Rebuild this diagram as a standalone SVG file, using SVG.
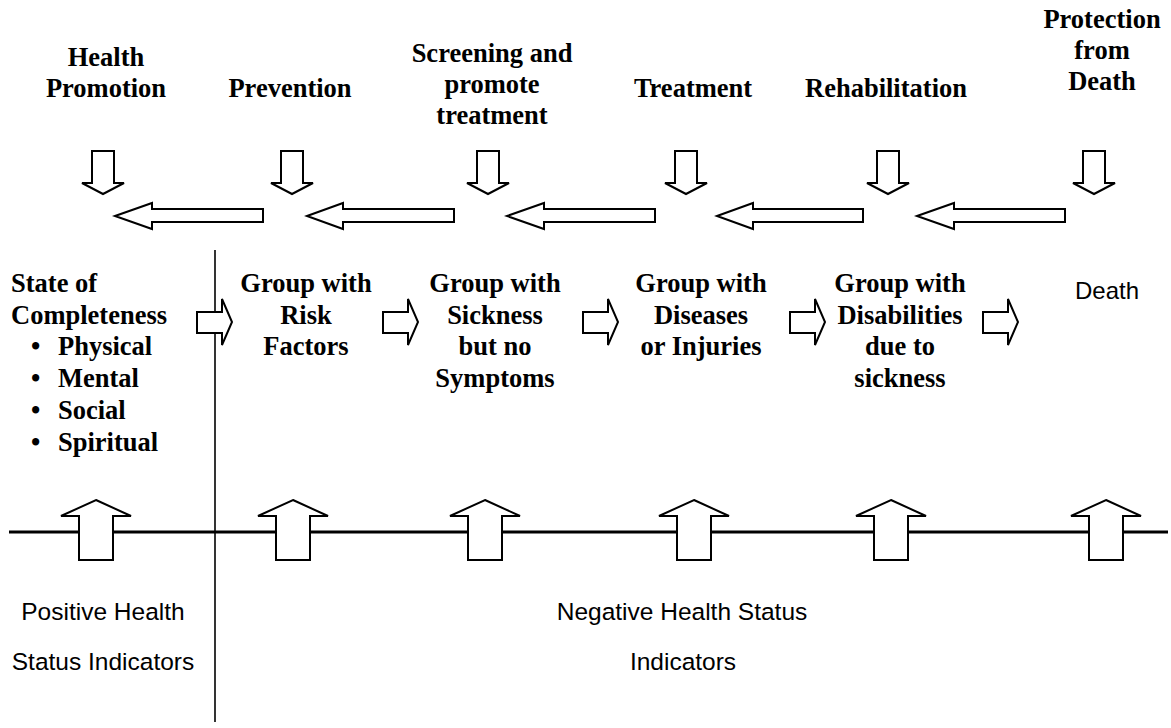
<svg xmlns="http://www.w3.org/2000/svg" width="1171" height="728" viewBox="0 0 1171 728">
  <style>
    .lbl { font-family: "Liberation Serif", "Times New Roman", serif; font-weight: bold; font-size: 26.5px; fill: #000; text-anchor: middle; }
    .lft { text-anchor: start; }
    .plain { font-family: "Liberation Sans", Arial, sans-serif; font-size: 24.5px; fill: #000; text-anchor: middle; }
    .blk { fill: #fff; stroke: #000; stroke-width: 2; stroke-linejoin: miter; }
    .axis { stroke: #000; fill: none; }
  </style>
  <rect width="1171" height="728" fill="#fff"/>

  <!-- axes -->
  <g id="axes">
    <line class="axis" x1="215" y1="250" x2="215" y2="722" stroke-width="1.6"/>
    <line class="axis" x1="9" y1="532" x2="1168" y2="532" stroke-width="3"/>
  </g>

  <!-- intervention labels -->
  <g id="health-promotion">
    <text class="lbl" x="106" y="66">Health</text>
    <text class="lbl" x="106" y="97">Promotion</text>
  </g>
  <g id="prevention">
    <text class="lbl" x="290" y="97">Prevention</text>
  </g>
  <g id="screening">
    <text class="lbl" x="492" y="62">Screening and</text>
    <text class="lbl" x="492" y="93">promote</text>
    <text class="lbl" x="492" y="124">treatment</text>
  </g>
  <g id="treatment">
    <text class="lbl" x="693" y="97">Treatment</text>
  </g>
  <g id="rehabilitation">
    <text class="lbl" x="886" y="97">Rehabilitation</text>
  </g>
  <g id="protection">
    <text class="lbl" x="1102" y="28">Protection</text>
    <text class="lbl" x="1102" y="59">from</text>
    <text class="lbl" x="1102" y="90">Death</text>
  </g>

  <!-- health states -->
  <g id="state-completeness">
    <text class="lbl lft" x="11" y="292">State of</text>
    <text class="lbl lft" x="11" y="324">Completeness</text>
    <text class="lbl lft" x="31" y="355">•</text>
    <text class="lbl lft" x="58" y="355">Physical</text>
    <text class="lbl lft" x="31" y="387">•</text>
    <text class="lbl lft" x="58" y="387">Mental</text>
    <text class="lbl lft" x="31" y="419">•</text>
    <text class="lbl lft" x="58" y="419">Social</text>
    <text class="lbl lft" x="31" y="451">•</text>
    <text class="lbl lft" x="58" y="451">Spiritual</text>
  </g>
  <g id="risk-factors">
    <text class="lbl" x="306" y="292">Group with</text>
    <text class="lbl" x="306" y="324">Risk</text>
    <text class="lbl" x="306" y="355">Factors</text>
  </g>
  <g id="sickness-no-symptoms">
    <text class="lbl" x="495" y="292">Group with</text>
    <text class="lbl" x="495" y="324">Sickness</text>
    <text class="lbl" x="495" y="355">but no</text>
    <text class="lbl" x="495" y="387">Symptoms</text>
  </g>
  <g id="diseases-injuries">
    <text class="lbl" x="701" y="292">Group with</text>
    <text class="lbl" x="701" y="324">Diseases</text>
    <text class="lbl" x="701" y="355">or Injuries</text>
  </g>
  <g id="disabilities">
    <text class="lbl" x="900" y="292">Group with</text>
    <text class="lbl" x="900" y="324">Disabilities</text>
    <text class="lbl" x="900" y="355">due to</text>
    <text class="lbl" x="900" y="387">sickness</text>
  </g>
  <g id="death">
    <text class="plain" x="1107" y="299" style="font-size:24px">Death</text>
  </g>

  <!-- indicator captions -->
  <g id="positive-indicators">
    <text class="plain" x="103" y="620">Positive Health</text>
    <text class="plain" x="103" y="670">Status Indicators</text>
  </g>
  <g id="negative-indicators">
    <text class="plain" x="682" y="620">Negative Health Status</text>
    <text class="plain" x="683" y="670">Indicators</text>
  </g>

  <!-- block arrows -->
  <g id="connectors">
    <!-- downward arrows under each intervention -->
    <path class="blk" d="M92,151 H114 V183 H124 L103,194 L82,183 H92 Z"/>
    <path class="blk" d="M281,151 H303 V183 H313 L292,194 L271,183 H281 Z"/>
    <path class="blk" d="M477,151 H499 V183 H509 L488,194 L467,183 H477 Z"/>
    <path class="blk" d="M675,151 H697 V183 H707 L686,194 L665,183 H675 Z"/>
    <path class="blk" d="M877,151 H899 V183 H909 L888,194 L867,183 H877 Z"/>
    <path class="blk" d="M1083,151 H1105 V183 H1115 L1094,194 L1073,183 H1083 Z"/>
    <!-- leftward arrows -->
    <path class="blk" d="M115,216 L152,203 V209 H263 V222 H152 V229 Z"/>
    <path class="blk" d="M307,216 L343,203 V209 H454 V222 H343 V229 Z"/>
    <path class="blk" d="M507,216 L544,203 V209 H655 V222 H544 V229 Z"/>
    <path class="blk" d="M717,216 L753,203 V209 H863 V222 H753 V229 Z"/>
    <path class="blk" d="M917,216 L954,203 V209 H1065 V222 H954 V229 Z"/>
    <!-- rightward arrows between states -->
    <path class="blk" d="M197,312 H222 V299 L232,322 L222,345 V333 H197 Z"/>
    <path class="blk" d="M383,312 H408 V299 L418,322 L408,345 V333 H383 Z"/>
    <path class="blk" d="M583,312 H608 V299 L618,322 L608,345 V333 H583 Z"/>
    <path class="blk" d="M790,312 H815 V299 L825,322 L815,345 V333 H790 Z"/>
    <path class="blk" d="M983,312 H1008 V299 L1018,322 L1008,345 V333 H983 Z"/>
    <!-- upward arrows on the baseline -->
    <path class="blk" d="M96,500 L131,516 H113 V560 H79 V516 H61 Z"/>
    <path class="blk" d="M293,500 L328,516 H310 V560 H276 V516 H258 Z"/>
    <path class="blk" d="M485,500 L520,516 H502 V560 H468 V516 H450 Z"/>
    <path class="blk" d="M694,500 L729,516 H711 V560 H677 V516 H659 Z"/>
    <path class="blk" d="M891,500 L926,516 H908 V560 H874 V516 H856 Z"/>
    <path class="blk" d="M1106,500 L1141,516 H1123 V560 H1089 V516 H1071 Z"/>
  </g>
</svg>
